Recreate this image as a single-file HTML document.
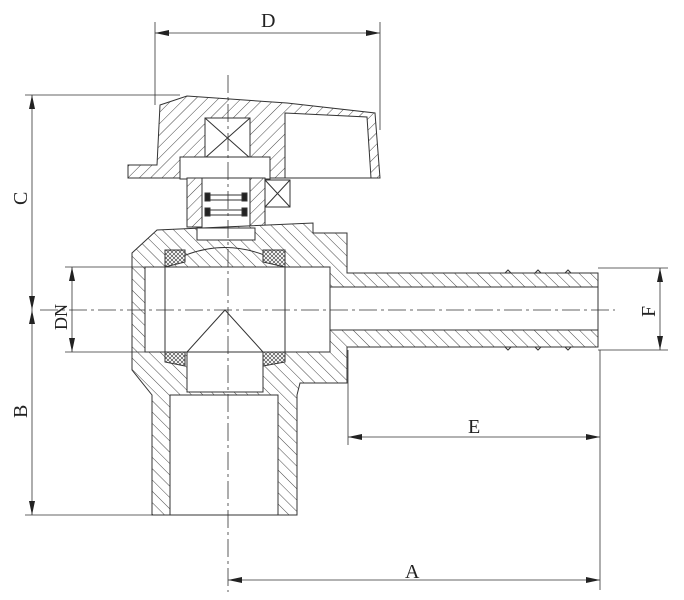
<!DOCTYPE html>
<html><head><meta charset="utf-8"><style>
html,body{margin:0;padding:0;background:#fff}
svg{display:block}
text{font-family:"Liberation Serif",serif;fill:#222}
</style></head><body>
<svg width="684" height="600" viewBox="0 0 684 600" xmlns="http://www.w3.org/2000/svg">
<defs>
<pattern id="h" width="8" height="8" patternUnits="userSpaceOnUse" patternTransform="rotate(45)">
<rect width="8" height="8" fill="#fff"/><line x1="0" y1="0" x2="0" y2="8" stroke="#333" stroke-width="0.9"/>
</pattern>
<pattern id="h2" width="8" height="8" patternUnits="userSpaceOnUse" patternTransform="rotate(-45)">
<rect width="8" height="8" fill="#fff"/><line x1="0" y1="0" x2="0" y2="8" stroke="#333" stroke-width="0.9"/>
</pattern>
<pattern id="x" width="4" height="4" patternUnits="userSpaceOnUse">
<rect width="4" height="4" fill="#fff"/><path d="M0 0L4 4M4 0L0 4" stroke="#333" stroke-width="0.6"/>
</pattern>
</defs>
<g stroke="#333" stroke-width="1" fill="none">
<!-- handle -->
<path d="M160 105 L187 96 L287 103 L375 113 L380 178 L128 178 L128 165 L157 165 Z" fill="url(#h)"/>
<path d="M285 113 L367 117 L371 178 L285 178 Z" fill="#fff"/>
<rect x="205" y="118" width="45" height="40" fill="#fff"/>
<path d="M205 118 L250 158 M250 118 L205 158"/>
<rect x="180" y="157" width="90" height="22" fill="#fff"/>
<!-- bonnet -->
<path d="M187 178 L265 178 L265 227 L187 227 Z" fill="url(#h)"/>
<rect x="202" y="178" width="48" height="50" fill="#fff"/>
<rect x="205" y="193" width="5" height="8" fill="#222"/><rect x="242" y="193" width="5" height="8" fill="#222"/>
<rect x="205" y="208" width="5" height="8" fill="#222"/><rect x="242" y="208" width="5" height="8" fill="#222"/>
<line x1="210" y1="195" x2="242" y2="195"/><line x1="210" y1="200" x2="242" y2="200"/>
<line x1="210" y1="210" x2="242" y2="210"/><line x1="210" y1="215" x2="242" y2="215"/>
<rect x="265" y="180" width="25" height="27" fill="#fff"/><path d="M265 180 L290 207 M290 180 L265 207"/>
<!-- body -->
<path d="M132 253 L157 230 L313 223 L313 233 L347 233 L347 273 L598 273 L598 347 L347 347 L347 383 L300 383 L297 395 L297 515 L152 515 L152 395 L132 370 Z" fill="url(#h2)"/>
<rect x="145" y="267" width="185" height="85" fill="#fff"/>
<rect x="330" y="287" width="268" height="43" fill="#fff"/>
<rect x="170" y="395" width="108" height="120" fill="#fff"/>
<rect x="187" y="352" width="76" height="40" fill="#fff"/>
<rect x="197" y="228" width="58" height="12" fill="#fff"/>
<path d="M165 265 Q225 230 285 265" />
<path d="M225 310 L187 352 L263 352 Z"/>
<line x1="165" y1="267" x2="165" y2="352"/><line x1="285" y1="267" x2="285" y2="352"/>
<path d="M165 250 L185 250 L185 262 L165 267 Z" fill="url(#x)"/>
<path d="M263 250 L285 250 L285 267 L263 262 Z" fill="url(#x)"/>
<path d="M165 352 L185 352 L185 366 L165 362 Z" fill="url(#x)"/>
<path d="M263 352 L285 352 L285 362 L263 366 Z" fill="url(#x)"/>
<path d="M505 273 l3 -3 l3 3 M535 273 l3 -3 l3 3 M565 273 l3 -3 l3 3 M505 347 l3 3 l3 -3 M535 347 l3 3 l3 -3 M565 347 l3 3 l3 -3"/>
</g>
<g stroke="#333" stroke-width="0.8" fill="none">
<!-- centerlines -->
<line x1="40" y1="310" x2="615" y2="310" stroke-dasharray="18 4 3 4"/>
<line x1="228" y1="75" x2="228" y2="592" stroke-dasharray="18 4 3 4"/>
<!-- extension lines -->
<line x1="155" y1="22" x2="155" y2="105"/><line x1="380" y1="22" x2="380" y2="130"/>
<line x1="25" y1="95" x2="180" y2="95"/><line x1="25" y1="515" x2="160" y2="515"/>
<line x1="65" y1="267" x2="145" y2="267"/><line x1="65" y1="352" x2="145" y2="352"/>
<line x1="598" y1="268" x2="668" y2="268"/><line x1="598" y1="350" x2="668" y2="350"/>
<line x1="348" y1="350" x2="348" y2="445"/><line x1="600" y1="350" x2="600" y2="590"/>
<!-- dimension lines -->
<line x1="155" y1="33" x2="380" y2="33"/>
<line x1="32" y1="95" x2="32" y2="515"/>
<line x1="72" y1="267" x2="72" y2="352"/>
<line x1="660" y1="268" x2="660" y2="350"/>
<line x1="348" y1="437" x2="600" y2="437"/>
<line x1="228" y1="580" x2="600" y2="580"/>
</g>
<g fill="#222">
<path d="M155 33 l14 -3 v6z"/><path d="M380 33 l-14 -3 v6z"/>
<path d="M32 95 l-3 14 h6z"/><path d="M32 310 l-3 -14 h6z"/><path d="M32 310 l-3 14 h6z"/><path d="M32 515 l-3 -14 h6z"/>
<path d="M72 267 l-3 14 h6z"/><path d="M72 352 l-3 -14 h6z"/>
<path d="M660 268 l-3 14 h6z"/><path d="M660 350 l-3 -14 h6z"/>
<path d="M348 437 l14 -3 v6z"/><path d="M600 437 l-14 -3 v6z"/>
<path d="M228 580 l14 -3 v6z"/><path d="M600 580 l-14 -3 v6z"/>
</g>
<text x="261" y="27" font-size="20">D</text>
<text x="468" y="433" font-size="20">E</text>
<text x="405" y="578" font-size="20">A</text>
<text transform="translate(27,205) rotate(-90)" font-size="20">C</text>
<text transform="translate(27,418) rotate(-90)" font-size="20">B</text>
<text transform="translate(67,330) rotate(-90)" font-size="18">DN</text>
<text transform="translate(655,317) rotate(-90)" font-size="20">F</text>
</svg>
</body></html>
